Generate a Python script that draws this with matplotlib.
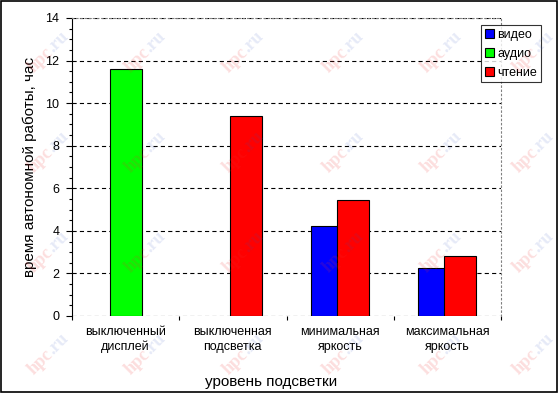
import matplotlib
matplotlib.use('Agg')
import matplotlib.pyplot as plt
from matplotlib.patches import Rectangle
import numpy as np

plt.rcParams['font.family'] = ['Liberation Sans', 'DejaVu Sans']
plt.rcParams['lines.scale_dashes'] = False

categories = ['выключенный\nдисплей', 'выключенная\nподсветка',
              'минимальная\nяркость', 'максимальная\nяркость']
series_names = ['видео', 'аудио', 'чтение']
video = [None, None, 4.25, 2.25]
audio = [11.6, None, None, None]
reading = [None, 9.4, 5.45, 2.8]
series_values = [video, audio, reading]
colors = ['#0000ff', '#00ff00', '#ff0000']
y_ticks = [0, 2, 4, 6, 8, 10, 12, 14]
y_label = 'время автономной работы, час'
x_label = 'уровень подсветки'

W, H = 559, 394
fig = plt.figure(figsize=(W / 100, H / 100), dpi=100)
ax = fig.add_axes([72 / W, 1 - 316 / H, (501 - 72) / W, (316 - 18) / H])

n = len(categories)
centers = np.arange(n) + 0.5
step = 0.121
width = 0.298
offsets = [-step, 0.0, step]
for k, (vals, col) in enumerate(zip(series_values, colors)):
    xs = [c + offsets[k] for c, v in zip(centers, vals) if v is not None]
    hs = [v for v in vals if v is not None]
    ax.bar(xs, hs, width=width, color=col, edgecolor='black', linewidth=0.8,
           zorder=3 + k)

ax.set_xlim(0, n)
ax.set_ylim(0, 14)
ax.set_yticks(y_ticks)
ax.set_yticklabels([str(t) for t in y_ticks], fontsize=9)
ax.set_yticks(np.arange(0, 14.01, 0.5), minor=True)
ax.tick_params(axis='y', which='major', direction='out', length=4, width=0.8, pad=5)
ax.tick_params(axis='y', which='minor', direction='out', length=2, width=0.8)

ax.set_xticks(np.arange(0, n + 1))
ax.set_xticklabels([])
ax.tick_params(axis='x', which='major', direction='out', length=3, width=0.8)
for c, lab in zip(centers, categories):
    ax.text(c, -0.45, lab, ha='center', va='top', fontsize=9,
            linespacing=1.35, transform=ax.transData, clip_on=False)

for t in y_ticks:
    ax.axhline(t, color='black', linewidth=0.8, linestyle=(0, (3, 2.3)), zorder=2)

ax.spines['bottom'].set_visible(False)
ax.spines['left'].set_linewidth(0.8)
for s in ['top', 'right']:
    ax.spines[s].set_color('#808080')
    ax.spines[s].set_linewidth(0.8)
    ax.spines[s].set_linestyle((0, (1, 2)))

fig.text(30 / W, 1 - 167 / H, y_label, rotation=90, ha='center', va='center', fontsize=11)
fig.text(271 / W, 1 - 382 / H, x_label, ha='center', va='center', fontsize=11)

handles = [Rectangle((0, 0), 1, 1, facecolor=c, edgecolor='black', linewidth=0.8)
           for c in colors]
leg = fig.legend(handles, series_names, loc='upper left',
                 bbox_to_anchor=(481 / W, 1 - 25 / H), fontsize=9,
                 frameon=True, fancybox=False, edgecolor='black',
                 handlelength=0.7, handleheight=0.7, handletextpad=0.3,
                 borderpad=0.3, labelspacing=0.55, borderaxespad=0)
leg.get_frame().set_linewidth(0.8)

# watermarks
cols = [50, 147, 245, 345, 443, 535]
rows = [50, 150, 250, 352]
for yy in rows:
    for xx in cols:
        fx, fy = xx / W, 1 - yy / H
        fig.text(fx, fy, 'hpc', rotation=45, rotation_mode='anchor', ha='right',
                 va='center', fontsize=13, fontweight='bold', family='Liberation Serif',
                 color='#f03030', alpha=0.16, zorder=20)
        fig.text(fx, fy, '.ru', rotation=45, rotation_mode='anchor', ha='left',
                 va='center', fontsize=13, fontweight='bold', family='Liberation Serif',
                 color='#3050c0', alpha=0.12, zorder=20)

border = Rectangle((1 / W, 2 / H), (W - 3) / W, (H - 3) / H, transform=fig.transFigure,
                   fill=False, edgecolor='black', linewidth=1.2)
fig.patches.append(border)

fig.savefig('out.png', dpi=100)
